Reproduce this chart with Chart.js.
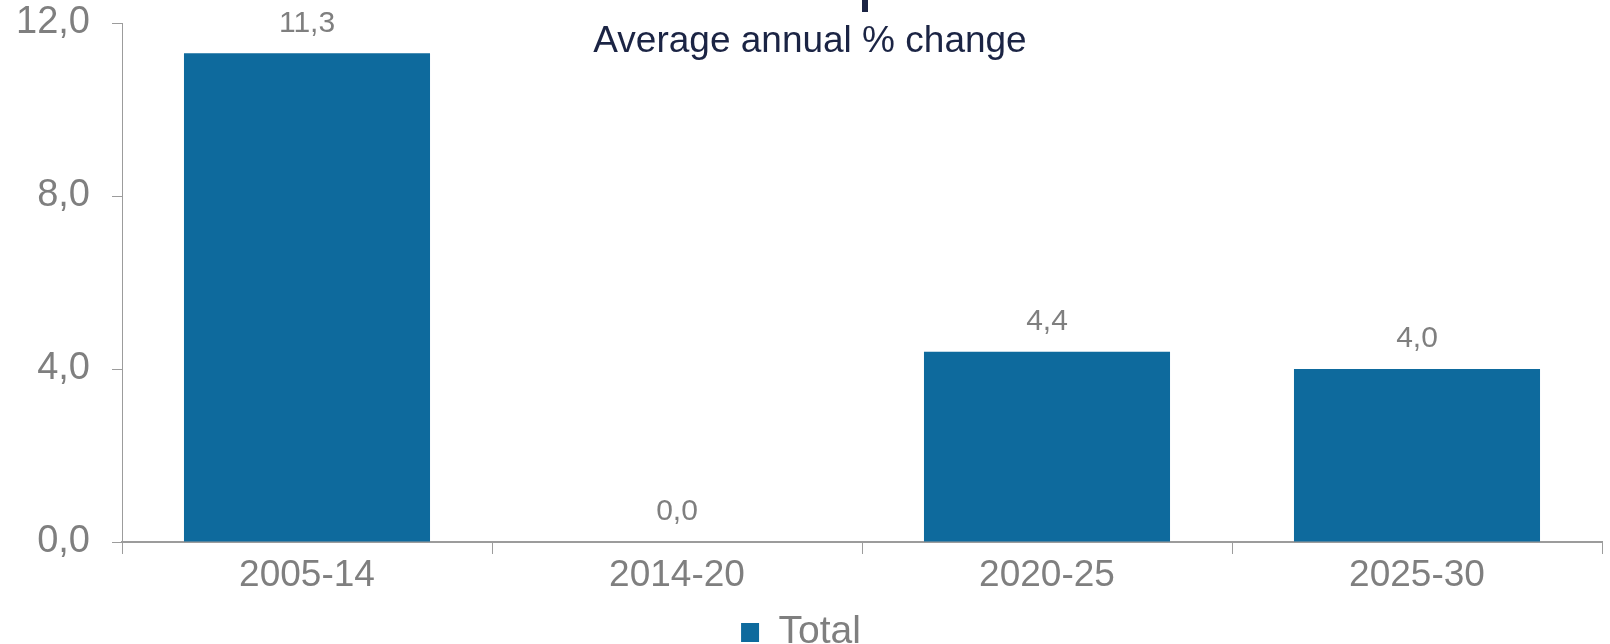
<!DOCTYPE html>
<html>
<head>
<meta charset="utf-8">
<script src="https://cdn.jsdelivr.net/npm/chart.js@4"></script>
<style>
  body { margin: 0; background: #fff; }
</style>
</head>
<body>
<canvas id="growthChart" width="1610" height="644"></canvas>
<script>
// values
const categories = ['2005-14', '2014-20', '2020-25', '2025-30'];
const totalValues = [11.3, 0.0, 4.4, 4.0];
const yTicks = [0, 4, 8, 12];
const seriesName = 'Total';
const chartTitle = 'Average annual % change';

const barColor = '#0e6a9d';
const greyText = '#7f7f7f';
const axisGrey = '#9c9c9c';

function fmt(v) {
    return v.toFixed(1).replace('.', ',');
}

// value labels above each bar
const valueLabels = {
    id: 'valueLabels',
    afterDatasetsDraw(chart) {
        const ctx = chart.ctx;
        const meta = chart.getDatasetMeta(0);
        ctx.save();
        ctx.font = '30px "Liberation Sans", Arial, sans-serif';
        ctx.fillStyle = greyText;
        ctx.textAlign = 'center';
        ctx.textBaseline = 'middle';
        meta.data.forEach((bar, i) => {
            ctx.fillText(fmt(totalValues[i]), bar.x, bar.y - 30);
        });
        ctx.restore();
    }
};

// heading sits inside the plot, over the bars' headroom
const heading = {
    id: 'heading',
    afterDraw(chart) {
        const ctx = chart.ctx;
        ctx.save();
        ctx.fillStyle = '#1b2444';
        ctx.fillRect(862, 0, 6, 12);
        ctx.font = '37px "Liberation Sans", Arial, sans-serif';
        ctx.textAlign = 'center';
        ctx.textBaseline = 'middle';
        ctx.fillText(chartTitle, 810, 42);
        ctx.restore();
    }
};

var ctx = document.getElementById('growthChart').getContext('2d');
var growthChart = new Chart(ctx, {
    type: 'bar',
    data: {
        labels: categories,
        datasets: [{
            label: seriesName,
            data: totalValues,
            backgroundColor: barColor,
            barPercentage: 0.665,
            categoryPercentage: 1.0
        }]
    },
    options: {
        responsive: false,
        animation: false,
        layout: {
            padding: { top: 23, right: 8, left: 0, bottom: -18 }
        },
        scales: {
            x: {
                grid: {
                    display: true,
                    drawOnChartArea: false,
                    drawTicks: true,
                    tickLength: 12,
                    color: axisGrey,
                    offset: true
                },
                border: { color: axisGrey, width: 2 },
                ticks: {
                    color: greyText,
                    padding: 0,
                    font: { size: 37, family: '"Liberation Sans", Arial, sans-serif' }
                },
                afterFit(scale) {
                    scale.height = 69;
                    scale.paddingLeft = 0;
                    scale.paddingRight = 0;
                }
            },
            y: {
                min: 0,
                max: 12,
                afterBuildTicks(scale) {
                    scale.ticks = yTicks.map(v => ({ value: v }));
                },
                grid: {
                    display: true,
                    drawOnChartArea: false,
                    drawTicks: true,
                    tickLength: 10,
                    color: axisGrey
                },
                border: { color: axisGrey, width: 1 },
                ticks: {
                    color: greyText,
                    padding: 22,
                    font: { size: 38, family: '"Liberation Sans", Arial, sans-serif' },
                    callback: function (value) { return fmt(value); }
                },
                afterFit(scale) {
                    scale.width = 122;
                    scale.paddingTop = 0;
                    scale.paddingBottom = 0;
                }
            }
        },
        plugins: {
            legend: {
                display: true,
                position: 'bottom',
                labels: {
                    color: greyText,
                    boxWidth: 18,
                    boxHeight: 19,
                    padding: 2,
                    font: { size: 39, lineHeight: 0.8, family: '"Liberation Sans", Arial, sans-serif' }
                }
            },
            tooltip: { enabled: false },
            title: { display: false }
        }
    },
    plugins: [valueLabels, heading]
});
</script>
</body>
</html>
